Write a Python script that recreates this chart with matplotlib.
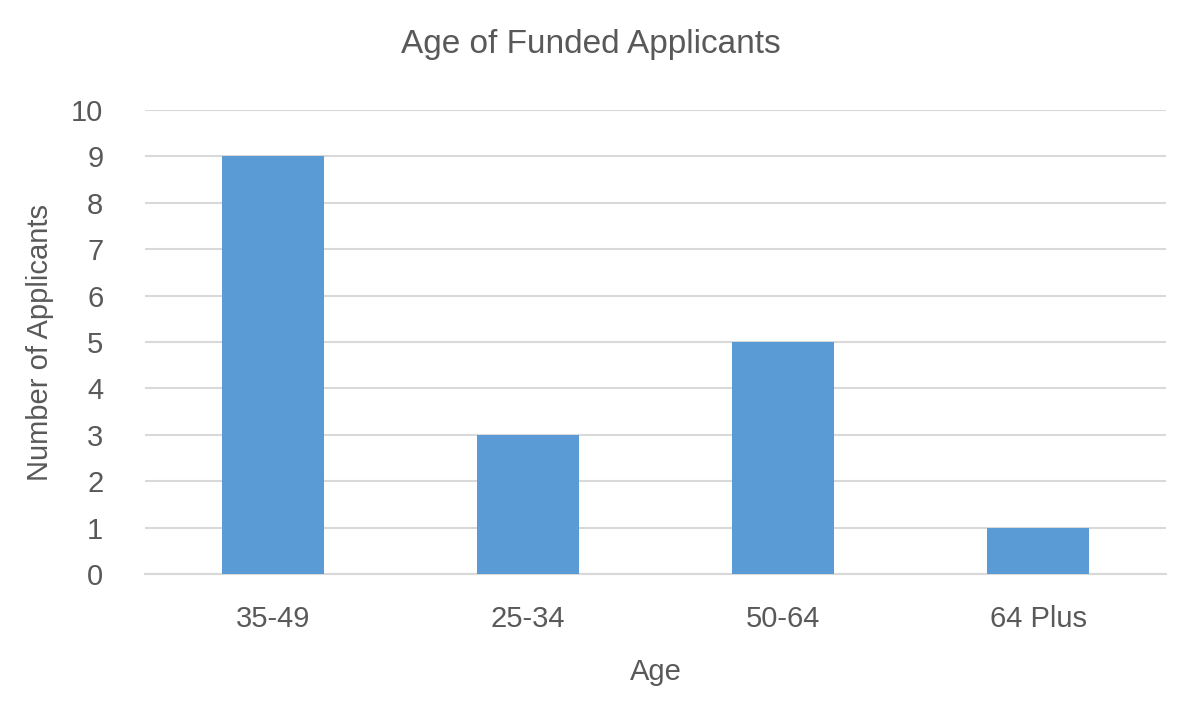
import matplotlib
matplotlib.use("Agg")
import matplotlib.pyplot as plt

categories = ["35-49", "25-34", "50-64", "64 Plus"]
values = [9, 3, 5, 1]

plt.rcParams['font.family'] = ['Liberation Sans', 'DejaVu Sans']
fig = plt.figure(figsize=(11.82, 7.14), dpi=100)
ax = fig.add_axes([0.1227, 0.196, 0.8638, 0.65])
ax.bar(range(len(categories)), values, width=0.4, color="#5B9BD5", zorder=3)
ax.set_xlim(-0.5, 3.5)
ax.set_ylim(0, 10)
ax.set_yticks(range(0, 11))
ax.set_xticks(range(len(categories)))
ax.set_xticklabels(categories)
ax.grid(axis='y', color="#D9D9D9", linewidth=1.5, zorder=0)
for s in ["top", "right", "left"]:
    ax.spines[s].set_visible(False)
ax.spines["bottom"].set_color("#D9D9D9")
ax.spines["bottom"].set_linewidth(1.5)
ax.tick_params(length=0, labelsize=21, colors="#595959")
ax.tick_params(axis='x', pad=22)
ax.tick_params(axis='y', pad=30)
ax.set_xlabel("Age", fontsize=21, color="#595959", labelpad=18)
ax.set_ylabel("Number of Applicants", fontsize=21, color="#595959", labelpad=12)
fig.text(0.5, 0.937, "Age of Funded Applicants", ha="center", va="center", fontsize=24, color="#595959")
fig.savefig("out.png", dpi=100)
